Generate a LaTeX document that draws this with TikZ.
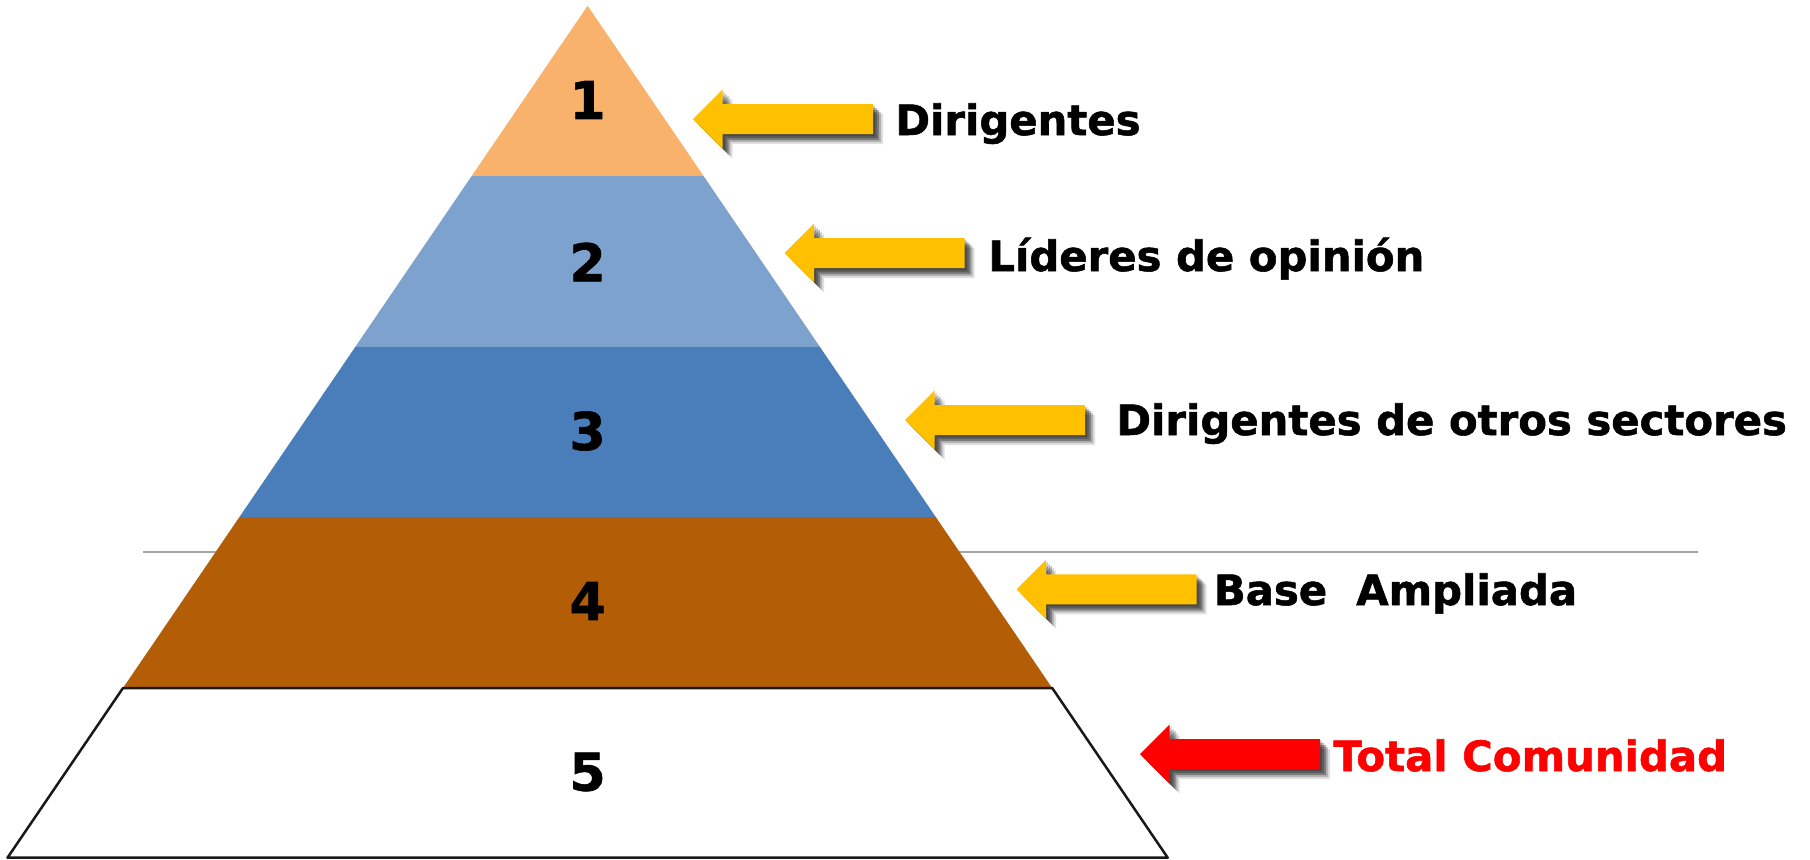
\documentclass[tikz,border=0pt]{standalone}
\usepackage{fontspec}
\setmainfont{DejaVu Sans}[BoldFeatures={FakeBold=1.3}]
\definecolor{cOne}{HTML}{F9B26C}
\definecolor{cTwo}{HTML}{7EA2CE}
\definecolor{cThree}{HTML}{4A7EBB}
\definecolor{cFour}{HTML}{B35E07}
\definecolor{cYel}{HTML}{FFC000}
\definecolor{cRed}{HTML}{FF0000}
\definecolor{cGrid}{HTML}{A6A6A6}
\newcommand\blockarrowat[3]{%
  \foreach \o/\op in {2/0.2,4/0.25,6/0.3,8/0.2,10/0.12}{%
    \fill[black,opacity=\op,shift={(\o,\o)}] (#1,#2) -- ++(29.5,-29.5) -- ++(0,14.5) -- ++(150.5,0) -- ++(0,30) -- ++(-150.5,0) -- ++(0,14.5) -- cycle;}
  \fill[#3] (#1,#2) -- ++(29.5,-29.5) -- ++(0,14.5) -- ++(150.5,0) -- ++(0,30) -- ++(-150.5,0) -- ++(0,14.5) -- cycle;}
\begin{document}
\begin{tikzpicture}[x=0.5pt,y=-0.5pt,
  num/.style={font=\fontsize{26pt}{30pt}\selectfont\bfseries, inner sep=0pt, anchor=center},
  lbl/.style={font=\fontsize{20.9pt}{25pt}\selectfont\bfseries, inner sep=0pt, anchor=base west}]
\useasboundingbox (0,0) rectangle (1810,859);
\fill[white] (0,0) rectangle (1810,859);
% gray horizontal line
\draw[cGrid, line width=0.75pt] (143,552) -- (1698,552);
% layers
\fill[cOne] (587.6,5.8) -- (703.2,175.5) -- (472.0,175.5) -- cycle;
\fill[cTwo] (472.0,175.5) -- (703.2,175.5) -- (819.5,346.3) -- (355.7,346.3) -- cycle;
\fill[cThree] (355.7,346.3) -- (819.5,346.3) -- (935.9,517.2) -- (239.3,517.2) -- cycle;
\fill[cFour] (239.3,517.2) -- (935.9,517.2) -- (1052.2,688) -- (123.0,688) -- cycle;
\draw[fill=white, draw={black!90}, line width=1.25pt, line join=round] (123.0,688) -- (1052.2,688) -- (1167.7,857.7) -- (7.5,857.7) -- cycle;
% numbers
\node[num] (n1) at (587.6,100) {1};
\node[num] (n2) at (587.6,262) {2};
\node[num] (n3) at (587.6,431) {3};
\node[num] (n4) at (587.6,601) {4};
\node[num] (n5) at (587.6,772) {5};
% arrows
\blockarrowat{693}{119}{cYel}
\blockarrowat{784.6}{253}{cYel}
\blockarrowat{905}{420}{cYel}
\blockarrowat{1016.6}{589.3}{cYel}
\blockarrowat{1140}{754}{cRed}
% labels
\node[lbl] (l1) at (895,135) {Dirigentes};
\node[lbl] (l2) at (988,271) {Líderes de opinión};
\node[lbl] (l3) at (1116,435) {Dirigentes de otros sectores};
\node[lbl] (l4) at (1213.5,605) {Base~~Ampliada};
\node[lbl, text=cRed] (l5) at (1333,771) {Total Comunidad};
\end{tikzpicture}
\end{document}
